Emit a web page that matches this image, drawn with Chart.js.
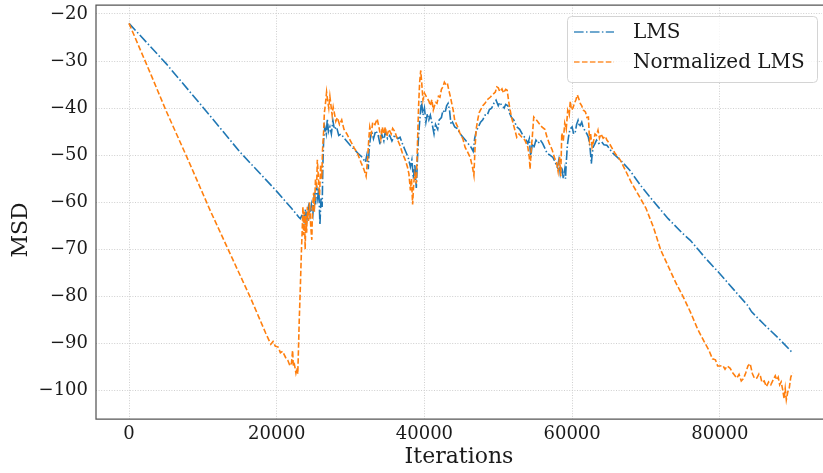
<!DOCTYPE html>
<html>
<head>
<meta charset="utf-8">
<script src="https://cdn.jsdelivr.net/npm/chart.js@4.4.1/dist/chart.umd.min.js"></script>
<style>
  html, body { margin: 0; padding: 0; background: #fff; overflow: hidden; }
  #wrap { width: 823px; height: 473px; }
</style>
</head>
<body>
<div id="wrap"><canvas id="msdChart" width="823" height="473"></canvas></div>
<script>
// LMS (blau, strich-punkt)
const lmsIter = [
  0, 5000, 10000, 15000, 20000, 22000, 23000, 23200, 23500, 23700, 23900, 24100, 24300, 24500,
  24700, 24900, 25100, 25250, 25400, 25550, 25700, 25850, 26000, 26150, 26250, 26350, 26500,
  26700, 26850, 27000, 27200, 27400, 27600, 27800, 28100, 28400, 28700, 29200, 30000, 31000,
  31600, 32000, 32200, 32400, 32500, 32700, 32900, 33100, 33400, 33700, 34000, 34200, 34500,
  34700, 35000, 35300, 35600, 36000, 36400, 36700, 37000, 37400, 37800, 38100, 38300, 38500,
  38700, 38900, 39050, 39200, 39400, 39600, 39800, 40000, 40200, 40400, 40600, 40800, 41000,
  41300, 41500, 41800, 42000, 42300, 42500, 42800, 43000, 43200, 43400, 43600, 43800, 44100,
  44400, 45000, 45800, 46300, 46600, 46800, 47000, 47300, 47600, 47900, 48200, 48500, 48800,
  49100, 49400, 49700, 50000, 50200, 50500, 50800, 51000, 51300, 51500, 51800, 52100, 52500,
  52900, 53300, 53700, 54000, 54200, 54400, 54600, 54800, 55100, 55400, 55700, 56000, 56300,
  56600, 57000, 57400, 57700, 58000, 58200, 58400, 58600, 58800, 59000, 59100, 59200, 59350,
  59500, 59700, 60000, 60200, 60400, 60600, 60800, 61000, 61300, 61500, 61700, 62000, 62200,
  62400, 62600, 62700, 62850, 63100, 63300, 63600, 64000, 64300, 64700, 65000, 65400, 66500,
  67800, 69200, 71000, 73000, 75000, 76000, 78000, 80000, 82000, 83800, 84300, 86000, 88000, 89900
];
const lmsMsd = [
  -22, -30.5, -39.8, -49.3, -57.7, -61.3, -63.2, -63.5, -62.5, -64, -61.5, -63.5, -61, -62.8,
  -60.5, -62.5, -58, -60.5, -56.5, -59, -57, -64.8, -59, -61, -52, -47, -44,
  -45.5, -42.3, -45, -44, -45.5, -42.6, -44.5, -44, -45.8, -45.5, -46.5, -48, -49.6,
  -50.5, -51.5, -50, -53, -49, -46, -45, -46.5, -44.8, -45.5, -47.8, -45.5, -47,
  -45, -46.5, -45.8, -47, -45.7, -46.5, -46.2, -47.5, -49, -50.5, -52.5, -51, -55,
  -52, -57, -51, -46, -42, -38.5, -41.5, -40, -43, -41.2, -42.5, -41.5, -43,
  -45.5, -43.5, -44.5, -42.5, -42, -40.5, -41, -39.5, -39, -40.5, -43.5, -43, -44,
  -44.3, -45.8, -47.3, -48.3, -49.2, -46.5, -45, -44, -43, -42.5, -41.5, -41.5, -40.3,
  -40, -39, -38.3, -39.5, -38.8, -39.5, -40, -39.2, -39.5, -41, -42, -42.5, -44,
  -44.5, -45.7, -46.5, -47.5, -46.5, -50.5, -47.5, -48.5, -46.8, -47.5, -46.8, -47.5, -48.5,
  -49.6, -50, -50.5, -51.5, -52.6, -51, -54, -52.5, -55, -53, -55, -51.7, -48,
  -46.2, -44.5, -44, -45.5, -45.3, -43.5, -42.6, -44, -43, -44.2, -44.7, -45.5, -46.2,
  -48, -51.8, -50, -48.3, -47.5, -46.8, -47.5, -47.2, -47.8, -47.9, -48.5, -49.4, -51,
  -53.2, -56.3, -59.8, -63.5, -66.7, -68.1, -71.8, -75.2, -78.8, -82, -83.3, -86, -89, -92.1
];

// Normalized LMS (orange, gestrichelt)
const nlmsIter = [
  0, 3000, 5000, 8000, 11000, 14000, 16500, 18500, 19200, 19500, 19800, 20200, 20500, 20800,
  21200, 21500, 21800, 22000, 22150, 22250, 22400, 22600, 22750, 22850, 22950, 23050, 23200,
  23350, 23450, 23550, 23650, 23750, 23850, 23950, 24050, 24150, 24300, 24450, 24600, 24750,
  24850, 25000, 25100, 25250, 25400, 25500, 25650, 25800, 25950, 26100, 26200, 26350, 26450,
  26600, 26750, 26900, 27050, 27200, 27350, 27500, 27650, 27800, 28000, 28200, 28500, 28800,
  29100, 29500, 30000, 30500, 30900, 31400, 31800, 32100, 32300, 32450, 32600, 32800, 33000,
  33300, 33600, 33900, 34100, 34300, 34500, 34700, 34900, 35200, 35500, 35700, 36000, 36300,
  36700, 37000, 37400, 37700, 37900, 38100, 38250, 38400, 38550, 38700, 38900, 39050, 39200,
  39350, 39500, 39650, 39800, 40000, 40300, 40600, 40800, 41000, 41200, 41500, 41700, 41900,
  42100, 42300, 42500, 42700, 42900, 43100, 43300, 43500, 43700, 43900, 44100, 44500, 44800,
  45200, 45500, 45900, 46200, 46500, 46700, 46850, 47000, 47200, 47400, 47600, 47900, 48200,
  48500, 48900, 49200, 49600, 49800, 50000, 50200, 50500, 50700, 51000, 51200, 51400, 51600,
  51800, 52000, 52300, 52500, 52800, 53200, 53600, 54000, 54200, 54300, 54450, 54600, 54800,
  55000, 55200, 55500, 55900, 56300, 56600, 56900, 57300, 57600, 57900, 58100, 58300, 58450,
  58600, 58800, 59000, 59200, 59400, 59600, 59750, 59900, 60100, 60300, 60500, 60700, 60900,
  61100, 61300, 61500, 61800, 62000, 62200, 62350, 62500, 62700, 62900, 63100, 63300, 63500,
  63700, 63900, 64200, 64500, 64700, 65000, 65400, 65800, 66500, 67200, 68000, 69000, 70000,
  71000, 72000, 73000, 74000, 75000, 76000, 77000, 78000, 78500, 79000, 79400, 79700, 80000,
  80400, 80700, 81000, 81400, 81700, 82000, 82300, 82600, 82900, 83200, 83500, 83800, 84100,
  84400, 84700, 85000, 85300, 85500, 85700, 86000, 86300, 86600, 86900, 87200, 87500, 87700,
  87900, 88100, 88300, 88500, 88700, 88850, 89000, 89200, 89400, 89600, 89700, 89900
];
const nlmsMsd = [
  -22, -33, -40.5, -51, -61.8, -72, -80.5, -87.8, -90.2, -89.6, -90.6, -90.8, -92, -91.7,
  -93, -93.6, -94.8, -94.2, -91.5, -95, -94.5, -96.3, -95.2, -96.5, -91, -85, -78,
  -70, -66, -61, -67, -62, -70, -63, -66.5, -61, -64, -60, -65, -68,
  -61, -58, -62, -55, -57, -51, -55, -58.5, -52, -55, -49, -45, -41,
  -39, -36.6, -38.5, -40, -37.5, -39.5, -41.5, -39.8, -41, -42.8, -42, -43.5, -42.5,
  -44.5, -45.5, -47, -48.5, -49.5, -51.5, -53, -54.5, -51, -47, -44, -45.5, -43,
  -43.5, -42.3, -44.5, -46.5, -44, -45.5, -44, -46, -44.5, -45.5, -44.3, -45, -46.5,
  -48, -49.5, -51, -52.5, -54, -57.5, -55, -60.5, -56, -54, -56, -48, -40,
  -34.5, -32, -35, -38.3, -36.8, -37.7, -38.5, -39.5, -38.2, -40.4, -38.8, -39, -37.5,
  -37.7, -36, -35.5, -34.5, -35, -34.7, -36.2, -37.5, -39, -40.5, -42.6, -44, -45.3,
  -46.5, -48.3, -49.5, -50.5, -52.5, -54.3, -48.5, -44.5, -42.6, -41, -40.4, -39.5, -39,
  -38.2, -37.7, -37.2, -36.6, -35.5, -35.7, -36.5, -35.9, -36.8, -36, -36.2, -38.5, -40.4,
  -42, -43.2, -45, -46.2, -45.5, -46.2, -46.8, -48.3, -50.5, -53, -49, -46.2, -41.9,
  -42.3, -42.6, -43.2, -44, -44.5, -46.2, -47.5, -48.9, -50.5, -51.7, -53.5, -50.4, -54.5,
  -45.3, -47, -43.2, -44.5, -40.5, -41.5, -38.5, -40.4, -40, -39, -38.3, -37.2, -38,
  -39, -39.5, -40.4, -40.8, -42, -41.9, -46.8, -45.5, -48.3, -47, -45.5, -45.8, -44.7,
  -46.4, -45.5, -46.4, -46, -46.8, -47.4, -48.5, -49.6, -51, -53.2, -55.8, -58.5, -61.3,
  -65.3, -70.2, -73.6, -77, -80, -83.3, -87, -90, -91.4, -93.3, -93.5, -94.8, -94.8,
  -94.7, -95.5, -94.8, -95.3, -96.2, -96.8, -97.4, -96.6, -98, -97.5, -96.3, -94.8, -94.3,
  -96.4, -97.5, -97.4, -96.5, -97, -98.3, -98, -99.2, -98.2, -98.8, -97.8, -96.9, -97.8,
  -97.2, -98.8, -98.2, -99.8, -101.8, -99.6, -102, -100.3, -99.5, -97.2, -96.8, -96.3
];

const xTicks = [0, 20000, 40000, 60000, 80000];
const yTicks = [-100, -90, -80, -70, -60, -50, -40, -30, -20];
const legendLabels = ['LMS', 'Normalized LMS'];
const yTitel = 'MSD';

const SERIF = "'DejaVu Serif', 'Liberation Serif', serif";
const BLAU = '#1f77b4';
const ORANGE = '#ff7f0e';

function zuPunkten(xs, ys) {
  return xs.map((x, i) => ({ x, y: ys[i] }));
}

function minusZahl(v) {
  return v < 0 ? '\u2212' + Math.abs(v) : String(v);
}

// Rahmen (oben, links, unten), y-Titel und Legende
const rahmenUndLegende = {
  id: 'rahmenUndLegende',
  afterDatasetsDraw(chart) {
    const { ctx, chartArea: a } = chart;
    ctx.save();
    ctx.strokeStyle = '#555';
    ctx.lineWidth = 1.25;
    ctx.beginPath();
    ctx.moveTo(a.right + 2, a.top);
    ctx.lineTo(a.left, a.top);
    ctx.lineTo(a.left, a.bottom);
    ctx.lineTo(a.right + 2, a.bottom);
    ctx.stroke();

    // y-Achsentitel (etwas unter der Mitte wie im Original)
    ctx.save();
    ctx.translate(21, 230);
    ctx.rotate(-Math.PI / 2);
    ctx.fillStyle = '#1a1a1a';
    ctx.font = '22px ' + SERIF;
    ctx.textAlign = 'center';
    ctx.textBaseline = 'middle';
    ctx.fillText(yTitel, 0, 0);
    ctx.restore();

    // Legende
    const bx = 567, by = 16, bw = 250, bh = 66;
    ctx.beginPath();
    ctx.roundRect(bx + 0.5, by + 0.5, bw, bh, 4);
    ctx.fillStyle = 'rgba(255,255,255,0.8)';
    ctx.fill();
    ctx.strokeStyle = '#d4d4d4';
    ctx.lineWidth = 1;
    ctx.stroke();

    const eintraege = [
      { farbe: BLAU, dash: [9.6, 2.4, 1.5, 2.4], y: 32 },
      { farbe: ORANGE, dash: [5.55, 2.4], y: 62 }
    ];
    eintraege.forEach((e, i) => {
      ctx.globalAlpha = 0.85;
      ctx.strokeStyle = e.farbe;
      ctx.lineWidth = 1.5;
      ctx.setLineDash(e.dash);
      ctx.beginPath();
      ctx.moveTo(574, e.y);
      ctx.lineTo(614, e.y);
      ctx.stroke();
      ctx.setLineDash([]);
      ctx.globalAlpha = 1;
      ctx.fillStyle = '#1a1a1a';
      ctx.font = '20px ' + SERIF;
      ctx.textBaseline = 'middle';
      ctx.textAlign = 'left';
      ctx.fillText(legendLabels[i], 633, e.y + 1);
    });
    ctx.restore();
  }
};

document.addEventListener('DOMContentLoaded', () => {
  const ctx = document.getElementById('msdChart').getContext('2d');
  new Chart(ctx, {
    type: 'line',
    data: {
      datasets: [
        {
          label: legendLabels[0],
          data: zuPunkten(lmsIter, lmsMsd),
          borderColor: BLAU,
          borderWidth: 1.6,
          borderDash: [9.6, 2.4, 1.5, 2.4],
          pointRadius: 0,
          tension: 0,
          fill: false,
          order: 1
        },
        {
          label: legendLabels[1],
          data: zuPunkten(nlmsIter, nlmsMsd),
          borderColor: ORANGE,
          borderWidth: 1.6,
          borderDash: [5.55, 2.4],
          pointRadius: 0,
          tension: 0,
          fill: false,
          order: 0
        }
      ]
    },
    options: {
      responsive: false,
      animation: false,
      devicePixelRatio: 1,
      layout: { padding: { top: 5, right: 1, left: 0, bottom: 0 } },
      plugins: {
        legend: { display: false },
        tooltip: { enabled: false }
      },
      scales: {
        x: {
          type: 'linear',
          min: -4470,
          max: 93830,
          afterBuildTicks: s => { s.ticks = xTicks.map(v => ({ value: v })); },
          afterFit: s => { s.height = 54; s.paddingLeft = 0; s.paddingRight = 0; },
          ticks: {
            color: '#1a1a1a',
            font: { family: SERIF, size: 18 },
            padding: 5,
            maxRotation: 0,
            autoSkip: false,
            callback: v => String(v)
          },
          grid: { color: '#cfcfcf', lineWidth: 1, drawTicks: false },
          border: { display: false, dash: [1, 1.6] },
          title: {
            display: true,
            text: 'Iterations',
            color: '#1a1a1a',
            font: { family: SERIF, size: 22 },
            padding: { top: 0, bottom: 3 }
          }
        },
        y: {
          type: 'linear',
          min: -106.08,
          max: -18.09,
          afterBuildTicks: s => { s.ticks = yTicks.map(v => ({ value: v })); },
          afterFit: s => { s.width = 96; s.paddingTop = 0; s.paddingBottom = 0; },
          ticks: {
            color: '#1a1a1a',
            font: { family: SERIF, size: 18 },
            padding: 8,
            autoSkip: false,
            callback: v => minusZahl(v)
          },
          grid: { color: '#cfcfcf', lineWidth: 1, drawTicks: false },
          border: { display: false, dash: [1, 1.6] },
          title: { display: false }
        }
      }
    },
    plugins: [rahmenUndLegende]
  });
});
</script>
</body>
</html>
